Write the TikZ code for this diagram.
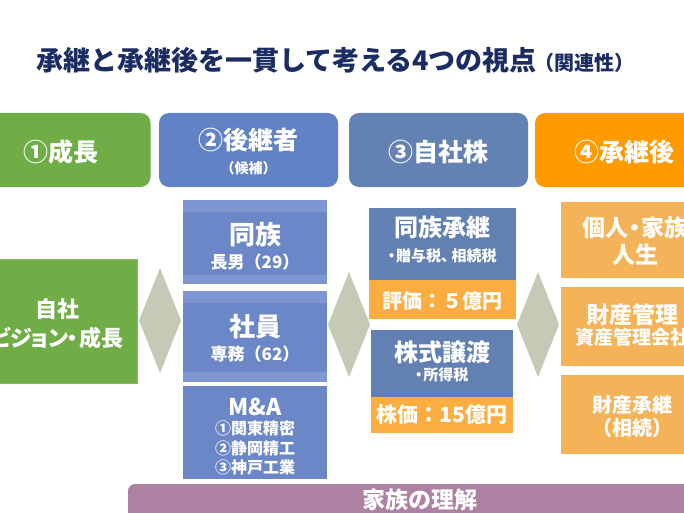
\documentclass[tikz,border=0pt]{standalone}
\usepackage{fontspec}
\setmainfont{Noto Sans CJK JP}
\usetikzlibrary{shapes.geometric}
\definecolor{ttl}{HTML}{1B2C63}
\definecolor{grn}{HTML}{70AD47}
\definecolor{grnedge}{HTML}{86BB62}
\definecolor{hblue}{HTML}{6282C6}
\definecolor{hslate}{HTML}{6381B2}
\definecolor{horange}{HTML}{FF9A00}
\definecolor{cblue}{HTML}{6C87C8}
\definecolor{cband}{HTML}{7E96D2}
\definecolor{sblue}{HTML}{6380B3}
\definecolor{sorange}{HTML}{FBAE3F}
\definecolor{lorange}{HTML}{F4B359}
\definecolor{purp}{HTML}{AD81A1}
\definecolor{dia}{HTML}{C5CAB6}
\newcommand\fs[1]{\fontsize{#1}{#1}\selectfont\bfseries}
\newcommand\ndot{\kern-0.22em・\kern-0.22em}
\tikzset{
  hdr/.style={rounded corners=10pt, minimum width=179pt, minimum height=74pt},
  flat/.style={rectangle},
  gem/.style={diamond, fill=dia, aspect=0.4, minimum width=42pt, minimum height=105pt},
  wt/.style={text=white},
}
\begin{document}
\begin{tikzpicture}[x=1pt,y=-1pt, every node/.style={inner sep=0pt, outer sep=0pt}]
\useasboundingbox (0,0) rectangle (684,513);
\clip (0,0) rectangle (684,513);
\fill[white] (0,0) rectangle (684,513);

% title
\node[anchor=base west, text=ttl, font=\fs{27}] (title) at (36,71)
  {承継と承継後を一貫して考える4つの視点{\fs{20}\kern-0.1em（関連性）}};

% header row
\node[hdr, fill=grn] (h1) at (61,150) {};
\node[hdr, fill=hblue] (h2) at (248.5,150) {};
\node[hdr, fill=hslate] (h3) at (438.5,150) {};
\node[hdr, fill=horange] (h4) at (624.5,150) {};
\node[wt, font=\fs{25}] (h1t) at (61,152) {①成長};
\node[wt, font=\fs{25}] (h2t) at (248.5,140) {②後継者};
\node[wt, font=\fs{14}] (h2s) at (248.5,168) {（候補）};
\node[wt, font=\fs{25}] (h3t) at (438.5,152) {③自社株};
\node[wt, font=\fs{25}] (h4t) at (624.5,152) {④承継後};

% green box
\node[flat, fill=grn, draw=grnedge, line width=0.8pt, minimum width=160pt, minimum height=124pt] (g) at (57,321) {};
\node[wt, font=\fs{22}] (gt1) at (57,309) {自社};
\node[wt, font=\fs{22}] (gt2) at (57,338) {ビ\kern-.1em ジ\kern-.2em ョ\kern-.15em ン\kern-.1em\ndot 成長};

% diamonds
\node[gem] (dm1) at (160,320.5) {};
\node[gem] (dm2) at (349,324.5) {};
\node[gem] (dm3) at (538,324.5) {};

% column 2
\node[flat, fill=cband, minimum width=144pt, minimum height=84pt] (b1) at (255,242) {};
\fill[cblue] (183,212) rectangle (327,275);
\node[wt, font=\fs{26}] (b1t) at (255,235) {同族};
\node[wt, font=\fs{17}] (b1s) at (255,262) {長男（29）};

\node[flat, fill=cband, minimum width=144pt, minimum height=91pt] (b2) at (255,336.5) {};
\fill[cblue] (183,303) rectangle (327,372);
\node[wt, font=\fs{26}] (b2t) at (255,327) {社員};
\node[wt, font=\fs{17}] (b2s) at (255,354) {専務（62）};

\node[flat, fill=cblue, minimum width=144pt, minimum height=93pt] (b3) at (255,432.5) {};
\node[wt, font=\fs{23}] (b3t) at (255,407) {M\&A};
\node[wt, font=\fs{16}] (b3a) at (255,428) {①関東精密};
\node[wt, font=\fs{16}] (b3b) at (255,448) {②静岡精工};
\node[wt, font=\fs{16}] (b3c) at (255,467) {③神戸工業};

% column 3
\node[flat, fill=sblue, minimum width=147pt, minimum height=72pt] (c1) at (442.5,244) {};
\node[flat, fill=sorange, minimum width=147pt, minimum height=39pt, anchor=north] (c1o) at (c1.south) {};
\node[wt, font=\fs{24}] (c1t) at (442.5,227) {同族承継};
\node[wt, font=\fs{15}] (c1s) at (442.5,256) {\kern-0.3em・\kern-0.2em 贈与税、\kern-0.3em 相続税};
\node[wt, font=\fs{20}] (c1v) at (442.5,301) {評価：５億円};

\node[flat, fill=sblue, minimum width=142pt, minimum height=67pt] (c2) at (442,363.5) {};
\node[flat, fill=sorange, minimum width=142pt, minimum height=36pt, anchor=north] (c2o) at (c2.south) {};
\node[wt, font=\fs{24}] (c2t) at (442,352) {株式譲渡};
\node[wt, font=\fs{15}] (c2s) at (442,375) {\kern-0.3em・\kern-0.2em 所得税};
\node[wt, font=\fs{21}] (c2v) at (442,415) {株価：15億円};

% column 4
\node[flat, fill=lorange, minimum width=148pt, minimum height=76pt] (d1) at (635,240) {};
\node[wt, font=\fs{23}] (d1t) at (635,228) {個人\ndot 家族};
\node[wt, font=\fs{23}] (d1s) at (635,255) {人生};
\node[flat, fill=lorange, minimum width=148pt, minimum height=79pt] (d2) at (635,326.5) {};
\node[wt, font=\fs{23}] (d2t) at (632,315) {財産管理};
\node[wt, font=\fs{19}] (d2s) at (632,337) {資産管理会社};
\node[flat, fill=lorange, minimum width=148pt, minimum height=79pt] (d3) at (635,414.5) {};
\node[wt, font=\fs{20}] (d3t) at (632,405) {財産承継};
\node[wt, font=\fs{20}] (d3s) at (632,428) {（相続）};

% purple bar
\node[flat, fill=purp, rounded corners=7pt, minimum width=584pt, minimum height=60pt] (bar) at (420,514) {};
\node[wt, font=\fs{23}] (bart) at (420,500) {家族の理解};
\end{tikzpicture}
\end{document}
